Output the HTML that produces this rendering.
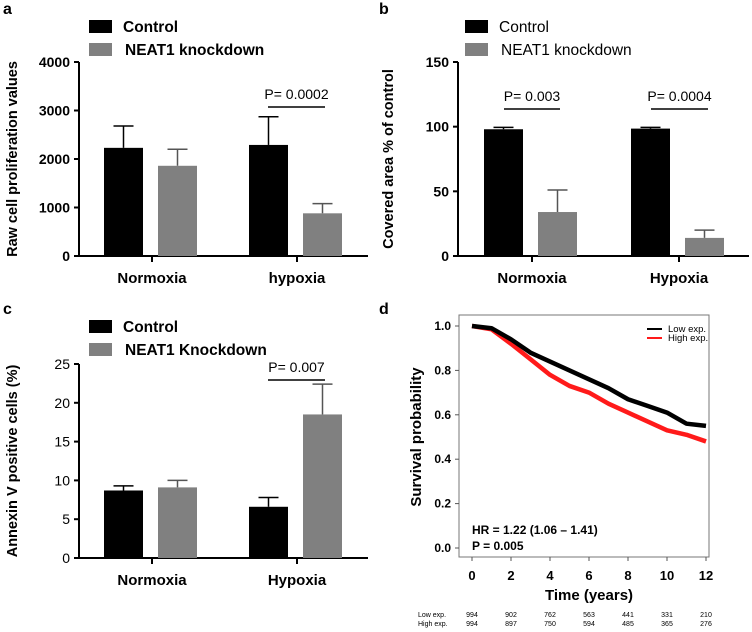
<!DOCTYPE html>
<html><head><meta charset="utf-8"><style>
html,body{margin:0;padding:0;background:#fff;}
svg{display:block;font-family:"Liberation Sans",Arial,sans-serif;}
</style></head><body>
<svg width="752" height="632" viewBox="0 0 752 632">
<g id="root"></g>
</svg>
<script>
// ---- Data ----
const groupsA = ["Normoxia","hypoxia"];
const ctrlA = [2230, 2290];
const ctrlErrA = [2680, 2870];
const kdA = [1860, 880];
const kdErrA = [2200, 1080];
const ticksA = [0,1000,2000,3000,4000];

const groupsB = ["Normoxia","Hypoxia"];
const ctrlB = [98, 98.5];
const ctrlErrB = [99.5, 99.5];
const kdB = [34, 14];
const kdErrB = [51, 20];
const ticksB = [0,50,100,150];

const groupsC = ["Normoxia","Hypoxia"];
const ctrlC = [8.7, 6.6];
const ctrlErrC = [9.3, 7.8];
const kdC = [9.1, 18.5];
const kdErrC = [10, 22.4];
const ticksC = [0,5,10,15,20,25];

const timeD = [0,1,2,3,4,5,6,7,8,9,10,11,12];
const lowD = [1,0.99,0.94,0.88,0.84,0.80,0.76,0.72,0.67,0.64,0.61,0.56,0.55];
const highD = [1,0.985,0.92,0.85,0.78,0.73,0.70,0.65,0.61,0.57,0.53,0.51,0.48];
const xTicksD = [0,2,4,6,8,10,12];
const yTicksD = [0,0.2,0.4,0.6,0.8,1.0];
const riskLow = [994,902,762,563,441,331,210];
const riskHigh = [994,897,750,594,485,365,276];

const NS="http://www.w3.org/2000/svg";
const root=document.getElementById('root');
function mk(tag,attrs,parent,txt){const e=document.createElementNS(NS,tag);for(const k in attrs)e.setAttribute(k,attrs[k]);if(txt!==undefined)e.textContent=txt;(parent||root).appendChild(e);return e;}

function barPanel(o){
  const g=mk('g',{});
  
  
  const y=v=>o.y0-(v-o.min)/(o.max-o.min)*(o.y0-o.y1);
  const lab=mk('text',{x:o.ox+3,y:o.oy+14,'font-size':16,'font-weight':'bold'},g,o.letter);
  
  const l1=mk('rect',{x:o.ox+89,y:o.oy+20,width:23,height:13,fill:'#000'},g);
  
  const t1=mk('text',{x:o.ox+123,y:o.oy+32,'font-size':15.5,'font-weight':o.legBold?'bold':'normal'},g,'Control');
  
  const l2=mk('rect',{x:o.ox+89,y:o.oy+43,width:23,height:13,fill:'#808080'},g);
  
  const t2=mk('text',{x:o.ox+125,y:o.oy+55,'font-size':15.5,'font-weight':o.legBold?'bold':'normal'},g,o.kdLabel);
  
  const ax=o.ax;
  const ya=mk('line',{x1:ax,y1:o.y1,x2:ax,y2:o.y0,stroke:'#000','stroke-width':2},g);
  
  const xa=mk('line',{x1:ax,y1:o.y0,x2:o.xEnd,y2:o.y0,stroke:'#000','stroke-width':2},g);
  
  o.ticks.forEach(t=>{
    mk('line',{x1:ax-5,y1:y(t),x2:ax,y2:y(t),stroke:'#000','stroke-width':2},g);
    const tl=mk('text',{x:ax-9,y:y(t)+5,'font-size':14,'font-weight':o.tickBold?'bold':'normal','text-anchor':'end'},g,String(t));
    
  });
  const yt=mk('text',{x:0,y:0,'font-size':14.5,'font-weight':'bold','text-anchor':'middle',transform:`translate(${o.ox+17},${(o.y0+o.y1)/2}) rotate(-90)`},g,o.yTitle);
  
  o.groups.forEach((name,i)=>{
    const c=o.centers[i];
    mk('line',{x1:c,y1:o.y0,x2:c,y2:o.y0+6,stroke:'#000','stroke-width':2},g);
    const cl=mk('text',{x:c,y:o.y0+27,'font-size':15,'font-weight':'bold','text-anchor':'middle'},g,name);
    
    [[o.ctrl,o.ctrlErr,'#000',-1,'control'],[o.kd,o.kdErr,'#808080',1,'knockdown']].forEach(([vals,errs,col,side,nm])=>{
      const bx=side<0?c-48:c+6;
      const bw=39;
      const ex=bx+bw/2;
      const e=mk('line',{x1:ex,y1:y(vals[i]),x2:ex,y2:y(errs[i]),stroke:col==='#000'?'#000':'#555','stroke-width':1.5},g);
      
      mk('line',{x1:ex-10,y1:y(errs[i]),x2:ex+10,y2:y(errs[i]),stroke:col==='#000'?'#000':'#555','stroke-width':1.5},g);
      const r=mk('rect',{x:bx,y:y(vals[i]),width:bw,height:o.y0-y(vals[i]),fill:col},g);
      
    });
  });
  o.pvals.forEach(p=>{
    const pl=mk('line',{x1:p.x1,y1:p.y,x2:p.x2,y2:p.y,stroke:'#000','stroke-width':1.5},g);
    
    const pt=mk('text',{x:(p.x1+p.x2)/2,y:p.y-8,'font-size':14,'text-anchor':'middle'},g,p.t);
    
  });
}

barPanel({name:'panel-a',letter:'a',ox:0,oy:0,ax:79,xEnd:368,y0:256,y1:62,min:0,max:4000,ticks:ticksA,tickBold:true,legBold:true,
  kdLabel:'NEAT1 knockdown',yTitle:'Raw cell proliferation values',groups:groupsA,centers:[152,297],
  ctrl:ctrlA,ctrlErr:ctrlErrA,kd:kdA,kdErr:kdErrA,pvals:[{x1:268,x2:325,y:107,t:'P= 0.0002'}]});
barPanel({name:'panel-b',letter:'b',ox:376,oy:0,ax:458,xEnd:749,y0:256,y1:62,min:0,max:150,ticks:ticksB,tickBold:true,legBold:false,
  kdLabel:'NEAT1 knockdown',yTitle:'Covered area % of control',groups:groupsB,centers:[532,679],
  ctrl:ctrlB,ctrlErr:ctrlErrB,kd:kdB,kdErr:kdErrB,pvals:[{x1:504,x2:560,y:109,t:'P= 0.003'},{x1:651,x2:708,y:109,t:'P= 0.0004'}]});
barPanel({name:'panel-c',letter:'c',ox:0,oy:300,ax:79,xEnd:368,y0:558,y1:364,min:0,max:25,ticks:ticksC,tickBold:false,legBold:true,
  kdLabel:'NEAT1 Knockdown',yTitle:'Annexin V positive cells (%)',groups:groupsC,centers:[152,297],
  ctrl:ctrlC,ctrlErr:ctrlErrC,kd:kdC,kdErr:kdErrC,pvals:[{x1:268,x2:325,y:380,t:'P= 0.007'}]});

// ---- Panel d ----
(function(){
  const g=mk('g',{});
  
  
  const X=t=>472+(t-0)/12*(706-472);
  const Y=v=>548-v*(548-326);
  const lab=mk('text',{x:379,y:314,'font-size':16,'font-weight':'bold'},g,'d');
  
  const box=mk('rect',{x:459,y:315,width:250,height:242,fill:'none',stroke:'#777','stroke-width':1},g);
  
  yTicksD.forEach(t=>{
    mk('line',{x1:455,y1:Y(t),x2:459,y2:Y(t),stroke:'#555'},g);
    const tl=mk('text',{x:451,y:Y(t)+4,'font-size':12,'font-weight':'bold','text-anchor':'end'},g,t.toFixed(1));
    
  });
  xTicksD.forEach((t,i)=>{
    mk('line',{x1:X(t),y1:557,x2:X(t),y2:561,stroke:'#555'},g);
    const tl=mk('text',{x:X(t),y:580,'font-size':13,'font-weight':'bold','text-anchor':'middle'},g,String(t));
    
    const r1=mk('text',{x:X(t),y:617,'font-size':7,'text-anchor':'middle'},g,String(riskLow[i]));
    
    const r2=mk('text',{x:X(t),y:626,'font-size':7,'text-anchor':'middle'},g,String(riskHigh[i]));
    
  });
  const rl=mk('text',{x:418,y:617,'font-size':7},g,'Low exp.');
  
  const rh=mk('text',{x:418,y:626,'font-size':7},g,'High exp.');
  
  const xt=mk('text',{x:589,y:600,'font-size':15,'font-weight':'bold','text-anchor':'middle'},g,'Time (years)');
  
  const yt=mk('text',{x:0,y:0,'font-size':15,'font-weight':'bold','text-anchor':'middle',transform:'translate(421,437) rotate(-90)'},g,'Survival probability');
  
  [[highD,'#ff1a1a','high'],[lowD,'#000','low']].forEach(([vals,col,nm])=>{
    const pts=timeD.map((t,i)=>X(t)+','+Y(vals[i])).join(' ');
    const pl=mk('polyline',{points:pts,fill:'none',stroke:col,'stroke-width':4.5,'stroke-linejoin':'round'},g);
    
  });
  mk('line',{x1:647,y1:329,x2:662,y2:329,stroke:'#000','stroke-width':2},g);
  const lt=mk('text',{x:668,y:332,'font-size':9.5},g,'Low exp.');
  
  mk('line',{x1:647,y1:338,x2:662,y2:338,stroke:'#ff1a1a','stroke-width':2},g);
  const ht=mk('text',{x:668,y:341,'font-size':9.5},g,'High exp.');
  
  const hr=mk('text',{x:472,y:534,'font-size':12,'font-weight':'bold'},g,'HR = 1.22 (1.06 \u2013 1.41)');
  
  const pv=mk('text',{x:472,y:550,'font-size':12,'font-weight':'bold'},g,'P = 0.005');
  
})();
</script>
</body></html>
